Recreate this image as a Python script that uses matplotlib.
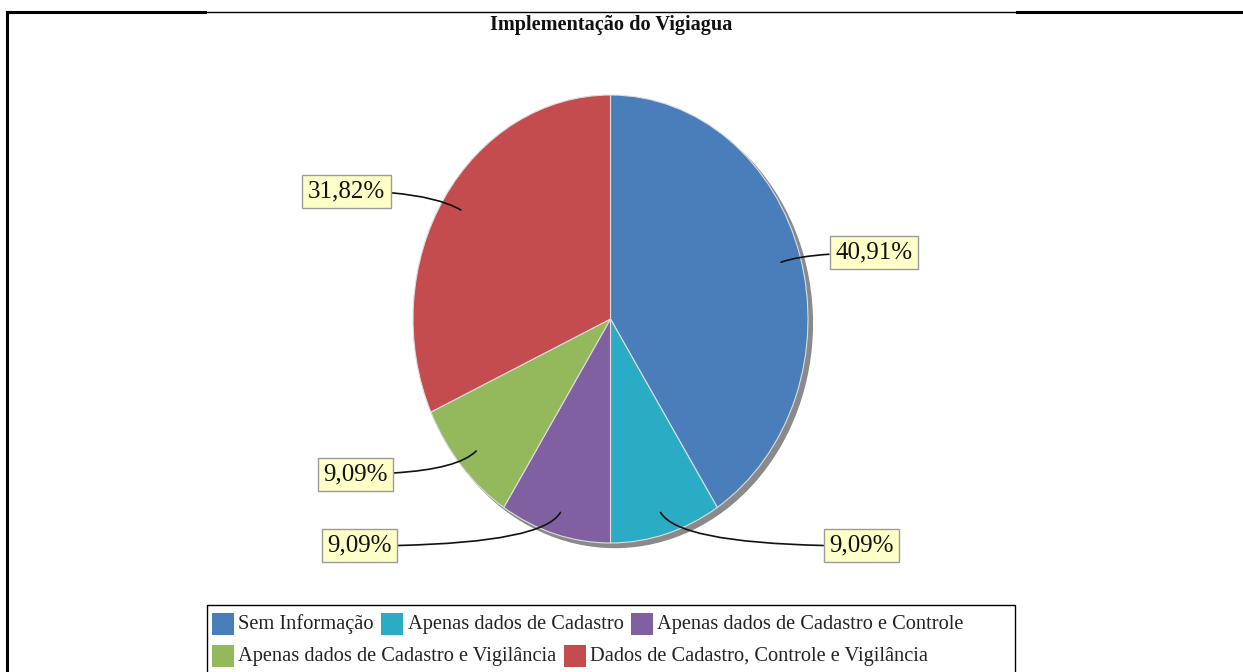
import matplotlib
matplotlib.use("Agg")
import matplotlib.pyplot as plt
import matplotlib.transforms as mtransforms
from matplotlib.patches import Ellipse, Rectangle
from matplotlib.lines import Line2D
import numpy as np

title = "Implementação do Vigiagua"
categories = ["Sem Informação", "Apenas dados de Cadastro",
              "Apenas dados de Cadastro e Controle",
              "Apenas dados de Cadastro e Vigilância",
              "Dados de Cadastro, Controle e Vigilância"]
values = [40.91, 9.09, 9.09, 9.09, 31.82]
labels = ["40,91%", "9,09%", "9,09%", "9,09%", "31,82%"]
colors = ["#4A7EBB", "#2BACC5", "#8060A0", "#94B85C", "#C44B4E"]
legend_rows = [[0, 1, 2], [3, 4]]

# label box positions (layout, in pie-axes units) and connector angles
label_pos = [(1.332, 0.295), (1.271, -1.013), (-1.271, -1.013), (-1.291, -0.692), (-1.337, 0.571)]
conn_angle = [20, -60, 60, 45, -30]

W, H = 1243, 672
SERIF = ["Liberation Serif", "DejaVu Serif"]
fig = plt.figure(figsize=(W / 100, H / 100), dpi=100)
pix = mtransforms.Affine2D().scale(1 / W, -1 / H).translate(0, 1) + fig.transFigure

# frame lines
fig.add_artist(Line2D([7, 205], [12, 12], transform=pix, color="black", lw=2.2))
fig.add_artist(Line2D([205, 1017], [12, 12], transform=pix, color="black", lw=1.0))
fig.add_artist(Line2D([1017, 1243], [12, 12], transform=pix, color="black", lw=2.2))
fig.add_artist(Line2D([7, 7], [12, 672], transform=pix, color="black", lw=2.2))

fig.text(611 / W, 1 - 25 / H, title, ha="center", va="center",
         fontsize=14.6, fontweight="bold", family=SERIF, color="#111111")

ax = fig.add_axes([413 / W, 1 - 543 / H, 395 / W, 448 / H])
ax.add_patch(Ellipse((0.022, -0.02), 2.0, 2.0, color="#8a8a8a", zorder=0, clip_on=False))
wedges, _ = ax.pie(values, colors=colors, startangle=90, counterclock=False,
                   wedgeprops=dict(edgecolor="#dddddd", linewidth=0.8, zorder=1))
ax.set_aspect("auto")
ax.set_xlim(-1, 1)
ax.set_ylim(-1, 1)
ax.axis("off")

for w, lab, pos, ang in zip(wedges, labels, label_pos, conn_angle):
    mid = np.deg2rad((w.theta1 + w.theta2) / 2)
    anchor = (0.9 * np.cos(mid), 0.9 * np.sin(mid))
    ax.annotate(lab, xy=anchor, xytext=pos, ha="center", va="center",
                fontsize=18, family=SERIF, color="#111111",
                bbox=dict(boxstyle="square,pad=0.22", fc="#FFFFC8", ec="#9a9a9a", lw=1.0),
                arrowprops=dict(arrowstyle="-", color="#111111", lw=1.2,
                                connectionstyle=f"angle3,angleA=0,angleB={ang}",
                                shrinkA=0, shrinkB=0),
                annotation_clip=False, zorder=5)

# legend (flow layout)
fig.add_artist(Rectangle((207, 605), 808, 80, transform=pix, fill=False,
                         ec="black", lw=1.0))
renderer = fig.canvas.get_renderer()
row_y = [624, 656]
for r, row in enumerate(legend_rows):
    x = 212
    for i in row:
        fig.add_artist(Rectangle((x, row_y[r] - 11), 22, 22, transform=pix,
                                 fc=colors[i], ec="none"))
        t = fig.text((x + 26) / W, 1 - row_y[r] / H, categories[i], ha="left",
                     va="center", fontsize=14.7, family=SERIF, color="#222222")
        wpx = t.get_window_extent(renderer).width
        x = x + 26 + wpx + 8

fig.savefig("out.png", dpi=100)
